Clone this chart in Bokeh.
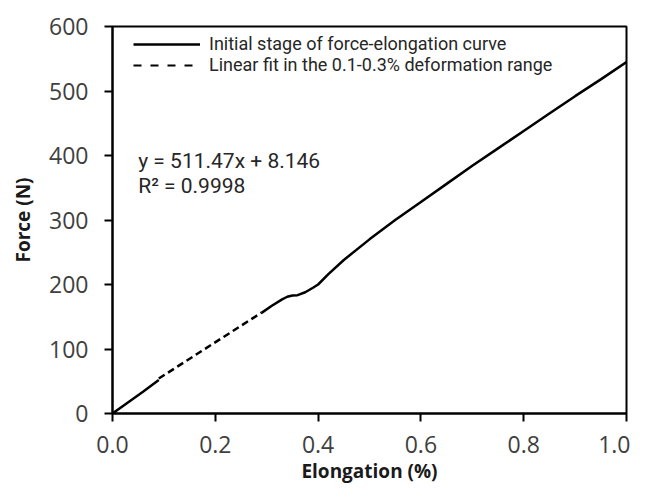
from bokeh.plotting import figure
from bokeh.models import Legend, LegendItem, Label, Range1d, FixedTicker
from bokeh.embed import file_html
from bokeh.resources import INLINE

# ---- data ----
curve_x_initial = [0.0, 0.03, 0.06, 0.09]
curve_y_initial = [0.0, 17.0, 34.0, 52.0]

curve_x_later = [0.29, 0.31, 0.33, 0.34, 0.35, 0.36, 0.375, 0.39, 0.40, 0.42, 0.45,
                 0.50, 0.55, 0.60, 0.65, 0.70, 0.75, 0.80, 0.85, 0.90, 0.95, 1.00]
curve_y_later = [156.0, 167.0, 177.0, 181.0, 183.0, 183.5, 188.0, 195.0, 200.0, 216.0, 238.0,
                 270.0, 300.0, 328.0, 356.0, 384.0, 411.0, 438.0, 465.0, 492.0, 518.0, 545.0]

fit_slope = 511.47
fit_intercept = 8.146
fit_x = [0.09, 0.29]
fit_y = [fit_slope * x + fit_intercept for x in fit_x]

x_ticks = [0.0, 0.2, 0.4, 0.6, 0.8, 1.0]
y_ticks = [0, 100, 200, 300, 400, 500, 600]

legend_labels = ["Initial stage of force-elongation curve",
                 "Linear fit in the 0.1-0.3% deformation range"]
equation_lines = ["y = 511.47x + 8.146", "R² = 0.9998"]
equation_y = [392, 353]

# ---- figure ----
p = figure(frame_width=514, frame_height=387,
           x_range=Range1d(0, 1), y_range=Range1d(0, 600),
           output_backend="svg", toolbar_location=None,
           min_border_left=112, min_border_right=4,
           min_border_top=26, min_border_bottom=70)
p.background_fill_color = "white"
p.border_fill_color = "white"
p.outline_line_color = "black"
p.outline_line_width = 2
p.xgrid.visible = False
p.ygrid.visible = False

for ax in (p.xaxis[0], p.yaxis[0]):
    ax.axis_line_width = 2
    ax.axis_line_color = "black"
    ax.major_tick_line_width = 2
    ax.major_tick_line_color = "black"
    ax.major_tick_out = 8
    ax.major_tick_in = 0
    ax.minor_tick_out = 0
    ax.minor_tick_in = 0
    ax.major_label_text_font = "Open Sans"
    ax.major_label_text_font_size = "23px"
    ax.major_label_text_color = "#404040"
    ax.axis_label_text_font = "Open Sans"
    ax.axis_label_text_font_style = "bold"
    ax.axis_label_text_font_size = "19px"
    ax.axis_label_text_color = "#1a1a1a"

p.xaxis[0].ticker = FixedTicker(ticks=x_ticks)
p.yaxis[0].ticker = FixedTicker(ticks=y_ticks)
p.xaxis[0].major_label_overrides = {t: f"{t:.1f}" for t in x_ticks}
p.xaxis[0].axis_label = "Elongation (%)"
p.yaxis[0].axis_label = "Force (N)"
p.xaxis[0].major_label_standoff = 14
p.yaxis[0].major_label_standoff = 16
p.xaxis[0].axis_label_standoff = 2
p.yaxis[0].axis_label_standoff = 10

lw = 2.5
r_c1 = p.line(curve_x_initial, curve_y_initial, line_color="black", line_width=lw)
r_c2 = p.line(curve_x_later, curve_y_later, line_color="black", line_width=lw)
r_fit = p.line(fit_x, fit_y, line_color="black", line_width=lw, line_dash="7 4")

# legend-only sample for the dashed entry (coarser dash, nothing drawn in the plot)
nan = float("nan")
r_leg_dash = p.line(fit_x, [nan, nan], line_color="black", line_width=2, line_dash="8 9")

legend = Legend(items=[LegendItem(label=legend_labels[0], renderers=[r_c2]),
                       LegendItem(label=legend_labels[1], renderers=[r_leg_dash])],
                location=(21, 338), margin=0, padding=0, spacing=0,
                glyph_width=67, glyph_height=20, label_height=20,
                label_standoff=9,
                label_text_font="Roboto", label_text_font_size="18px",
                label_text_color="#262626",
                background_fill_alpha=0, border_line_alpha=0)
p.add_layout(legend, "center")

for txt, yv in zip(equation_lines, equation_y):
    p.add_layout(Label(x=0.05, y=yv, text=txt,
                       text_font="Roboto", text_font_size="21px",
                       text_color="#262626", text_baseline="middle"))

open("out.html", "w").write(file_html(p, INLINE))
